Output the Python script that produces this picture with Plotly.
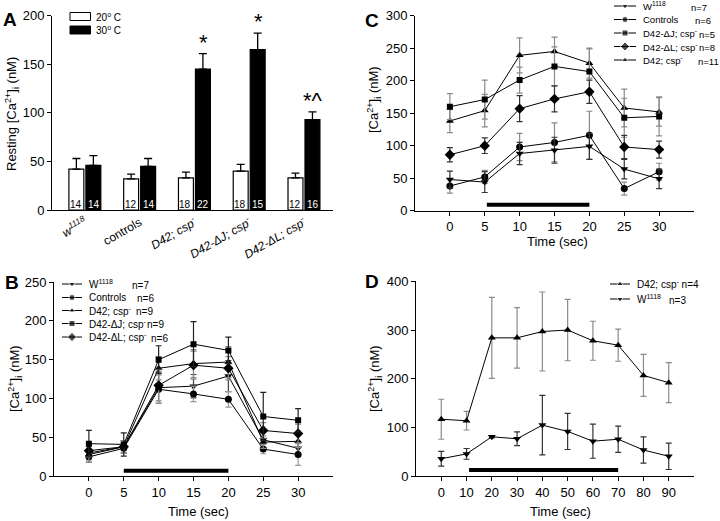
import plotly.graph_objects as go

W, H = 720, 521
OFF = 0  # body margin removed via post_script
FONT = "Arial, 'Liberation Sans', sans-serif"

# ---------------- Panel A data ----------------
groups = ["<i>w<sup>1118</sup></i>", "controls", "<i>D42; csp<sup>-</sup></i>",
          "<i>D42-ΔJ; csp<sup>-</sup></i>", "<i>D42-ΔL; csp<sup>-</sup></i>"]
a_20 = [42, 32, 33, 40, 33]
a_20_err = [11, 5, 6, 7, 5]
a_30 = [46, 45, 145, 165, 93]
a_30_err = [10, 8, 16, 17, 8]
a_n20 = [14, 12, 18, 18, 12]
a_n30 = [14, 14, 22, 15, 16]
a_marks = ["", "", "*", "*", "*^"]
a_mark_y = [0, 0, 172, 194, 113]

# ---------------- Panel B data ----------------
t_b = [0, 5, 10, 15, 20, 25, 30]
b_w1118 = [30, 38, 114, 116, 129, 47, 36]
b_w1118_err = [12, 8, 20, 15, 20, 10, 8]
b_ctrl = [25, 36, 112, 106, 99, 35, 28]
b_ctrl_err = [5, 6, 18, 10, 10, 6, 14]
b_d42 = [28, 38, 139, 145, 147, 44, 45]
b_d42_err = [10, 8, 15, 18, 20, 8, 8]
b_dj = [42, 41, 150, 170, 162, 77, 72]
b_dj_err = [17, 15, 18, 29, 17, 31, 15]
b_dl = [33, 38, 117, 143, 139, 59, 55]
b_dl_err = [8, 8, 20, 18, 15, 10, 12]
stim_b_x = [5, 20]
stim_b_y = [7, 7]

# ---------------- Panel C data ----------------
t_c = [0, 5, 10, 15, 20, 25, 30]
c_w1118 = [48, 44, 88, 93, 99, 64, 49]
c_w1118_err = [13, 16, 17, 20, 20, 15, 15]
c_ctrl = [38, 52, 98, 105, 116, 34, 60]
c_ctrl_err = [11, 10, 21, 30, 37, 10, 13]
c_dj = [160, 171, 201, 222, 214, 143, 145]
c_dj_err = [20, 30, 20, 30, 35, 30, 30]
c_dl = [86, 100, 157, 172, 183, 98, 94]
c_dl_err = [11, 12, 20, 20, 18, 18, 13]
c_d42 = [138, 154, 239, 245, 227, 158, 152]
c_d42_err = [18, 25, 27, 22, 23, 29, 22]
stim_c_x = [5.3, 20]
stim_c_y = [9, 9]

# ---------------- Panel D data ----------------
t_d = [0, 10, 20, 30, 40, 50, 60, 70, 80, 90]
d_d42 = [117, 114, 284, 284, 297, 300, 278, 269, 207, 192]
d_d42_err = [41, 19, 83, 62, 81, 63, 40, 33, 43, 41]
d_w1118 = [36, 46, 81, 77, 105, 92, 72, 76, 54, 41]
d_w1118_err = [15, 11, 2, 14, 61, 37, 35, 27, 27, 27]
stim_d_x = [11, 70]
stim_d_y = [13, 13]

fig = go.Figure()

# ---- Panel A bars
xa = list(range(len(groups)))
fig.add_trace(go.Bar(x=xa, y=a_20, marker=dict(color="white", line=dict(color="black", width=1.2)),
                     error_y=dict(type="data", array=a_20_err, arrayminus=[0]*5, symmetric=False,
                                  color="black", thickness=1.3, width=4),
                     xaxis="x", yaxis="y", showlegend=False))
fig.add_trace(go.Bar(x=xa, y=a_30, marker=dict(color="black", line=dict(color="black", width=1.2)),
                     error_y=dict(type="data", array=a_30_err, arrayminus=[0]*5, symmetric=False,
                                  color="black", thickness=1.3, width=4),
                     xaxis="x", yaxis="y", showlegend=False))

def series(x, y, err, sym, ecol, xa_, ya_, msize=7):
    fig.add_trace(go.Scatter(x=x, y=y, mode="lines+markers",
                             line=dict(color="black", width=1),
                             marker=dict(symbol=sym, color="black", size=msize),
                             error_y=dict(type="data", array=err, color=ecol, thickness=1.2, width=3),
                             xaxis=xa_, yaxis=ya_, showlegend=False))

# ---- Panel C
series(t_c, c_d42, c_d42_err, "triangle-up", "#8a8a8a", "x2", "y2")
series(t_c, c_dj, c_dj_err, "square", "#8a8a8a", "x2", "y2", 6)
series(t_c, c_dl, c_dl_err, "diamond", "#333333", "x2", "y2", 8)
series(t_c, c_ctrl, c_ctrl_err, "circle", "#8a8a8a", "x2", "y2")
series(t_c, c_w1118, c_w1118_err, "triangle-down", "#333333", "x2", "y2")
fig.add_trace(go.Scatter(x=stim_c_x, y=stim_c_y, mode="lines", line=dict(color="black", width=4),
                         xaxis="x2", yaxis="y2", showlegend=False))

# ---- Panel B
series(t_b, b_w1118, b_w1118_err, "triangle-down", "#444444", "x3", "y3")
series(t_b, b_ctrl, b_ctrl_err, "circle", "#999999", "x3", "y3")
series(t_b, b_d42, b_d42_err, "triangle-up", "#888888", "x3", "y3")
series(t_b, b_dl, b_dl_err, "diamond", "#888888", "x3", "y3", 8)
series(t_b, b_dj, b_dj_err, "square", "#222222", "x3", "y3", 6)
fig.add_trace(go.Scatter(x=stim_b_x, y=stim_b_y, mode="lines", line=dict(color="black", width=4),
                         xaxis="x3", yaxis="y3", showlegend=False))

# ---- Panel D
series(t_d, d_d42, d_d42_err, "triangle-up", "#8a8a8a", "x4", "y4")
series(t_d, d_w1118, d_w1118_err, "triangle-down", "#333333", "x4", "y4")
fig.add_trace(go.Scatter(x=stim_d_x, y=stim_d_y, mode="lines", line=dict(color="black", width=4),
                         xaxis="x4", yaxis="y4", showlegend=False))

# ---------------- helpers: pixel overlay axis for legends / labels ----------------
ann = []

def txt(x, y, s, size=11, xanchor="left", yanchor="middle", bold=False, angle=0, color="black"):
    ann.append(dict(x=x, y=y, xref="x5", yref="y5", text=("<b>%s</b>" % s) if bold else s,
                    showarrow=False, xanchor=xanchor, yanchor=yanchor, textangle=angle,
                    font=dict(family=FONT, size=size, color=color)))

def leg_item(x0, x1, y, sym, label, nx, ntext, size=10, msize=6):
    fig.add_trace(go.Scatter(x=[x0, (x0 + x1) / 2, x1], y=[y, y, y], mode="lines+markers",
                             line=dict(color="black", width=1),
                             marker=dict(symbol=sym, color="black", size=[0, msize, 0]),
                             xaxis="x5", yaxis="y5", showlegend=False, cliponaxis=False,
                             hoverinfo="skip"))
    txt(x1 + 5, y, label, size)
    if ntext:
        txt(nx, y + 1, ntext, size)

# Panel letters
txt(9.5, 19, "A", 19, "center", bold=True)
txt(372, 20, "C", 19, "center", bold=True)
txt(12, 282, "B", 19, "center", bold=True)
txt(372, 281, "D", 19, "center", bold=True)

# y titles
txt(12, 114, "Resting [Ca<sup>2+</sup>]<sub>i</sub> (nM)", 13, "center", angle=-90)
txt(374, 100, "[Ca<sup>2+</sup>]<sub>i</sub> (nM)", 13, "center", angle=-90)
txt(15, 379, "[Ca<sup>2+</sup>]<sub>i</sub> (nM)", 13, "center", angle=-90)
txt(375, 379, "[Ca<sup>2+</sup>]<sub>i</sub> (nM)", 13, "center", angle=-90)

# x titles
txt(557, 241, "Time (sec)", 13, "center")
txt(198, 511, "Time (sec)", 13, "center")
txt(560, 511, "Time (sec)", 13, "center")

# Panel A legend
fig.add_shape(type="rect", xref="x5", yref="y5", x0=70, x1=90.5, y0=12.5, y1=20.5,
              line=dict(color="black", width=1), fillcolor="white")
fig.add_shape(type="rect", xref="x5", yref="y5", x0=70, x1=90.5, y0=26, y1=34,
              line=dict(color="black", width=1), fillcolor="black")
txt(94, 16.5, "20<sup>o</sup> C", 10)
txt(94, 30, "30<sup>o</sup> C", 10)

# Panel C legend
leg_item(614, 636, 6, "triangle-down", "W<sup>1118</sup>", 689, "n=7", size=9.5)
leg_item(614, 636, 19.5, "circle", "Controls", 693, "n=6", size=9.5)
leg_item(614, 636, 33, "square", "D42-ΔJ; csp<sup>-</sup>", 697, "n=5", size=9.5)
leg_item(614, 636, 46.5, "diamond", "D42-ΔL; csp<sup>-</sup>", 697, "n=8", size=9.5, msize=7)
leg_item(614, 636, 60, "triangle-up", "D42; csp<sup>-</sup>", 696, "n=11", size=9.5)

# Panel B legend
leg_item(62, 82, 284, "triangle-down", "W<sup>1118</sup>", 130, "n=7")
leg_item(62, 82, 297.5, "circle", "Controls", 135, "n=6")
leg_item(62, 82, 310.5, "triangle-up", "D42; csp<sup>-</sup>", 134, "n=9")
leg_item(62, 82, 323.5, "square", "D42-ΔJ; csp<sup>-</sup>", 145, "n=9")
leg_item(62, 82, 337, "diamond", "D42-ΔL; csp<sup>-</sup>", 149, "n=6", msize=7)

# Panel D legend
leg_item(610, 630, 284, "triangle-up", "D42; csp<sup>-</sup> n=4", 0, "", size=10)
leg_item(610, 630, 299, "triangle-down", "W<sup>1118</sup>", 667, "n=3", size=10)

# Panel A in-bar counts and significance marks
for i in range(len(groups)):
    ann.append(dict(x=i, y=6, xref="x", yref="y", text=str(a_n20[i]), showarrow=False, xshift=-9,
                    font=dict(family=FONT, size=10, color="black")))
    ann.append(dict(x=i, y=6, xref="x", yref="y", text=str(a_n30[i]), showarrow=False, xshift=9,
                    font=dict(family=FONT, size=10, color="white")))
    if a_marks[i]:
        ann.append(dict(x=i, y=a_mark_y[i], xref="x", yref="y", text=a_marks[i], showarrow=False,
                        xshift=9, font=dict(family=FONT, size=22, color="black")))

def px(x):
    return (x - OFF) / W

def py(y):
    return 1 - (y - OFF) / H

ax_common = dict(showline=True, linecolor="black", linewidth=1, showgrid=False, zeroline=False,
                 ticks="outside", ticklen=4, tickcolor="black", tickwidth=1, automargin=False,
                 tickfont=dict(family=FONT, size=13, color="black"))

fig.update_layout(
    template="none",
    width=W, height=H, margin=dict(l=0, r=0, t=0, b=0, pad=0, autoexpand=False),
    paper_bgcolor="white", plot_bgcolor="rgba(0,0,0,0)",
    barmode="group", bargap=0.38, bargroupgap=0.12,
    font=dict(family=FONT, color="black"),
    showlegend=False, hovermode=False,
    xaxis=dict(ax_common, domain=[px(52), px(333)], range=[-0.6, 4.53], tickvals=xa, ticktext=groups,
               ticks="", tickangle=-30, anchor="y", tickfont=dict(family=FONT, size=12, color="black")),
    yaxis=dict(ax_common, domain=[py(210), py(15.7)], range=[0, 200], dtick=50, anchor="x"),
    xaxis2=dict(ax_common, domain=[px(415), px(694)], range=[-5, 35], tickvals=t_c, anchor="y2"),
    yaxis2=dict(ax_common, domain=[py(210.7), py(15.7)], range=[0, 300], dtick=50, anchor="x2"),
    xaxis3=dict(ax_common, domain=[px(54), px(333)], range=[-5, 35], tickvals=t_b, anchor="y3"),
    yaxis3=dict(ax_common, domain=[py(476.3), py(282)], range=[0, 250], dtick=50, anchor="x3"),
    xaxis4=dict(ax_common, domain=[px(416), px(694)], range=[-10, 100], tickvals=t_d, anchor="y4"),
    yaxis4=dict(ax_common, domain=[py(476.3), py(281.3)], range=[0, 400], dtick=100, anchor="x4"),
    xaxis5=dict(domain=[0, 1], range=[OFF, W + OFF], visible=False, anchor="y5", fixedrange=True,
                automargin=False),
    yaxis5=dict(domain=[0, 1], range=[H + OFF, OFF], visible=False, anchor="x5", fixedrange=True,
                automargin=False),
    annotations=ann,
)

fig.write_html("out.html", config={"displayModeBar": False},
               post_script="document.body.style.margin='0';")
